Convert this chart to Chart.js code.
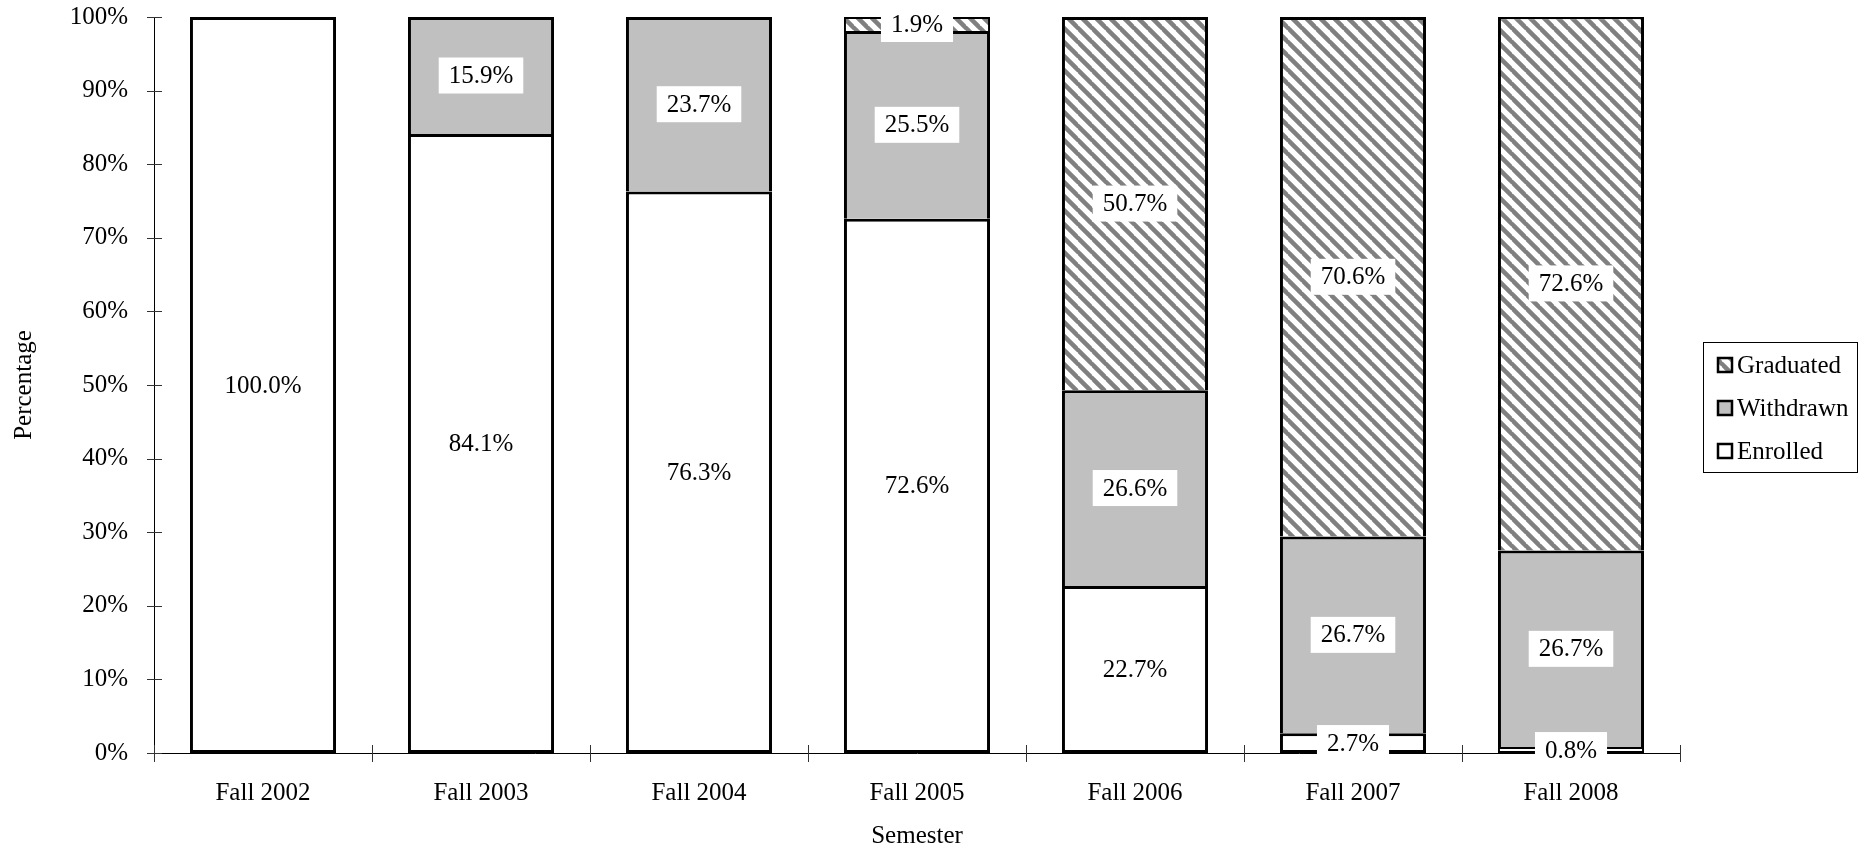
<!DOCTYPE html>
<html>
<head>
<meta charset="utf-8">
<script src="https://cdn.jsdelivr.net/npm/chart.js@4.4.0/dist/chart.umd.min.js"></script>
<style>
html, body { margin: 0; padding: 0; background: #fff; }
#wrap { width: 1864px; height: 851px; position: relative; }
</style>
</head>
<body>
<div id="wrap"><canvas id="chart"></canvas></div>
<script>
const semesters = ['Fall 2002', 'Fall 2003', 'Fall 2004', 'Fall 2005', 'Fall 2006', 'Fall 2007', 'Fall 2008'];
const enrolled  = [100, 84.1, 76.3, 72.6, 22.7, 2.7, 0.8];
const withdrawn = [null, 15.9, 23.7, 25.5, 26.6, 26.7, 26.7];
const graduated = [null, null, null, 1.9, 50.7, 70.6, 72.6];

const FONT = '"Liberation Serif", "Times New Roman", serif';
const canvas = document.getElementById('chart');

// diagonal stripes for "Graduated"
function hatch(ctx) {
    const n = 14;
    const c = document.createElement('canvas');
    c.width = n; c.height = n;
    const g = c.getContext('2d');
    g.fillStyle = '#fff';
    g.fillRect(0, 0, n, n);
    g.strokeStyle = '#808080';
    g.lineWidth = 4.5;
    for (const k of [-n, 0, n]) {
        g.beginPath();
        g.moveTo(-1, -1 + k);
        g.lineTo(n + 1, n + 1 + k);
        g.stroke();
    }
    return ctx.createPattern(c, 'repeat');
}

const barLabels = {
    id: 'barLabels',
    afterDatasetsDraw(chart) {
        const ctx = chart.ctx;
        ctx.save();
        ctx.font = '25px ' + FONT;
        ctx.textAlign = 'center';
        ctx.textBaseline = 'middle';
        chart.data.datasets.forEach((ds, di) => {
            chart.getDatasetMeta(di).data.forEach((bar, i) => {
                const v = ds.data[i];
                if (v == null) return;
                const txt = v.toFixed(1) + '%';
                const cy = (bar.y + bar.base) / 2;
                const w = ctx.measureText(txt).width + 20;
                const h = 36;
                ctx.fillStyle = '#fff';
                ctx.fillRect(bar.x - w / 2, cy - h / 2, w, h);
                ctx.fillStyle = '#000';
                ctx.fillText(txt, bar.x, cy + 1);
            });
        });
        ctx.restore();
    }
};

const crossTicks = {
    id: 'crossTicks',
    beforeDatasetsDraw(chart) {
        const {ctx, chartArea, scales} = chart;
        ctx.save();
        ctx.strokeStyle = '#333';
        ctx.lineWidth = 1;
        ctx.beginPath();
        scales.y.ticks.forEach(t => {
            const y = Math.round(scales.y.getPixelForValue(t.value)) + 0.5;
            ctx.moveTo(chartArea.left - 7, y);
            ctx.lineTo(chartArea.left + 8, y);
        });
        for (let i = 0; i <= semesters.length; i++) {
            const x = Math.round(scales.x.getPixelForValue(i - 0.5)) + 0.5;
            ctx.moveTo(x, chartArea.bottom - 8);
            ctx.lineTo(x, chartArea.bottom + 9);
        }
        ctx.stroke();
        ctx.restore();
    }
};

const boxLegend = {
    id: 'boxLegend',
    afterDraw(chart) {
        const {ctx, chartArea} = chart;
        const width = 154, height = 130;
        const left = chartArea.right + 23;
        const top = Math.round((chartArea.top + chartArea.bottom) / 2 + 22 - height / 2);
        ctx.save();
        ctx.strokeStyle = '#000';
        ctx.lineWidth = 1;
        ctx.strokeRect(left + 0.5, top + 0.5, width, height);
        const items = chart.data.datasets.slice().reverse();
        items.forEach((ds, k) => {
            const cy = top + 23 + k * 43;
            ctx.fillStyle = ds.backgroundColor;
            ctx.fillRect(left + 15, cy - 7, 14, 14);
            ctx.lineWidth = 2.5;
            ctx.strokeStyle = '#000';
            ctx.strokeRect(left + 15, cy - 7, 14, 14);
            ctx.fillStyle = '#000';
            ctx.font = '25px ' + FONT;
            ctx.textAlign = 'left';
            ctx.textBaseline = 'middle';
            ctx.fillText(ds.label, left + 34, cy + 1);
        });
        ctx.restore();
    }
};

const common = {
    borderColor: '#000',
    // thin segments keep a visible gap between their edges
    borderWidth: c => (c.raw != null && c.raw < 2 ? 2 : 3),
    barPercentage: 0.67,
    categoryPercentage: 1.0
};

const config = {
    type: 'bar',
    data: {
        labels: semesters,
        datasets: [
            Object.assign({label: 'Enrolled', data: enrolled, backgroundColor: '#ffffff', borderSkipped: false}, common),
            Object.assign({label: 'Withdrawn', data: withdrawn, backgroundColor: '#c0c0c0', borderSkipped: 'start'}, common),
            Object.assign({label: 'Graduated', data: graduated, backgroundColor: hatch(canvas.getContext('2d')), borderSkipped: 'start'}, common)
        ]
    },
    options: {
        responsive: true,
        maintainAspectRatio: false,
        animation: false,
        layout: { padding: { left: 0, top: 17, right: 184, bottom: 0 } },
        plugins: {
            legend: { display: false },
            tooltip: { enabled: false }
        },
        scales: {
            x: {
                stacked: true,
                grid: { display: false, drawTicks: false },
                border: { display: true, color: '#000', width: 1 },
                ticks: { color: '#000', padding: 25, font: { family: FONT, size: 25 } },
                title: { display: true, text: 'Semester', color: '#000', padding: { top: 0, bottom: 0 }, font: { family: FONT, size: 25 } },
                afterFit: s => { s.height = 98; s.paddingLeft = 0; s.paddingRight = 0; }
            },
            y: {
                stacked: true,
                min: 0,
                max: 100,
                grid: { display: false, drawTicks: false },
                border: { display: true, color: '#000', width: 1 },
                ticks: { stepSize: 10, color: '#000', padding: 26, font: { family: FONT, size: 25 }, callback: v => v + '%' },
                title: { display: true, text: 'Percentage', color: '#000', padding: { top: 9, bottom: 9 }, font: { family: FONT, size: 25 } },
                afterFit: s => { s.width = 154; s.paddingTop = 0; s.paddingBottom = 0; }
            }
        }
    },
    plugins: [crossTicks, barLabels, boxLegend]
};

new Chart(canvas, config);
</script>
</body>
</html>
